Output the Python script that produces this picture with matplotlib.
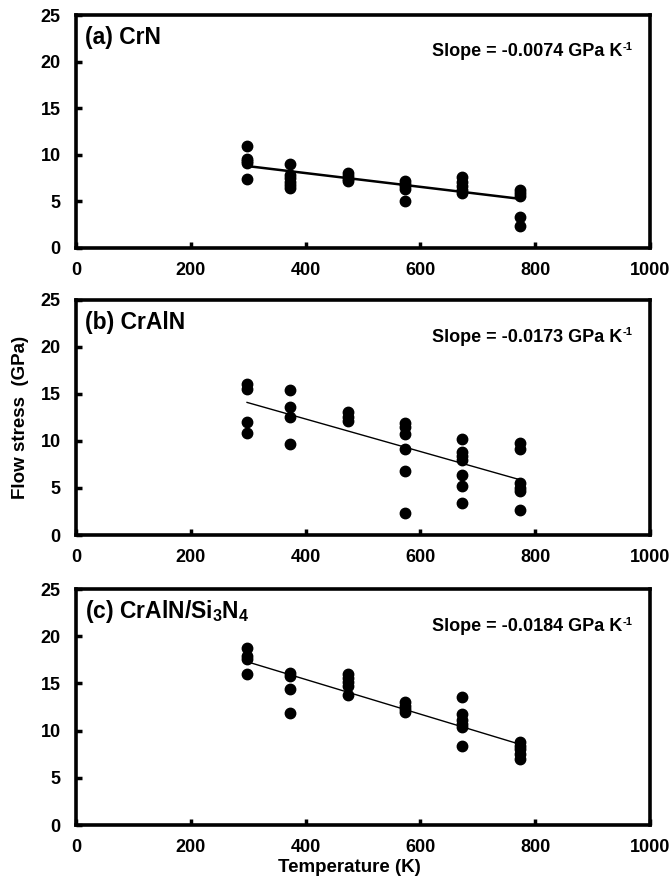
import matplotlib
matplotlib.use("Agg")
import matplotlib.pyplot as plt
from matplotlib.transforms import offset_copy

plt.rcParams['font.family'] = ['Liberation Sans', 'DejaVu Sans']
plt.rcParams['font.weight'] = 'bold'
plt.rcParams['mathtext.fontset'] = 'custom'
plt.rcParams['mathtext.bf'] = 'Liberation Sans:bold'
plt.rcParams['mathtext.rm'] = 'Liberation Sans:bold'
plt.rcParams['mathtext.default'] = 'bf'

temps = [298, 373, 473, 573, 673, 773]

crn_vals = [
    [10.9, 9.6, 9.3, 9.1, 7.4],
    [9.0, 7.8, 7.5, 7.1, 6.8, 6.4],
    [8.0, 7.7, 7.4, 7.2],
    [7.2, 6.9, 6.6, 6.3, 5.0],
    [7.6, 7.1, 6.6, 6.2, 5.9],
    [6.2, 5.9, 5.6, 3.3, 2.4],
]
cralN_vals = [
    [16.1, 15.5, 12.0, 10.8],
    [15.4, 13.6, 12.5, 9.7],
    [13.1, 12.6, 12.1],
    [11.9, 11.5, 10.7, 9.2, 6.8, 2.3],
    [10.2, 8.8, 8.4, 8.0, 6.4, 5.2, 3.4],
    [9.8, 9.2, 5.5, 5.0, 4.7, 2.7],
]
cralnsi_vals = [
    [18.8, 17.9, 17.6, 16.0],
    [16.1, 15.8, 14.4, 11.9],
    [16.0, 15.6, 15.1, 14.7, 13.8],
    [13.0, 12.6, 12.3, 12.0],
    [13.6, 11.8, 11.1, 10.7, 10.4, 8.4],
    [8.8, 8.4, 8.0, 7.5, 7.0],
]

slopes = [-0.0074, -0.0173, -0.0184]
intercepts = [11.0, 19.26, 22.78]
fit_range = [298, 773]

titles = ['(a) CrN', '(b) CrAlN', '(c) CrAlN/Si$_3$N$_4$']
slope_texts = ['Slope = -0.0074 GPa K', 'Slope = -0.0173 GPa K',
               'Slope = -0.0184 GPa K']
slope_unit_sup = '-1'
xticks = [0, 200, 400, 600, 800, 1000]
yticks = [0, 5, 10, 15, 20, 25]

datasets = [crn_vals, cralN_vals, cralnsi_vals]
line_widths = [1.8, 1.0, 1.0]

fig = plt.figure(figsize=(6.7, 8.82), dpi=100)
W, H = 670, 882
boxes = [(15, 248), (300, 535), (589, 825)]
left, right = 76, 650

renderer = fig.canvas.get_renderer()

for i, (top, bot) in enumerate(boxes):
    ax = fig.add_axes([left / W, 1 - bot / H, (right - left) / W, (bot - top) / H])
    for t, vals in zip(temps, datasets[i]):
        ax.plot([t] * len(vals), vals, 'o', color='black', markersize=7.5, zorder=3)
    xs = fit_range
    ys = [slopes[i] * x + intercepts[i] for x in xs]
    ax.plot(xs, ys, '-', color='black', lw=line_widths[i], zorder=2)
    ax.set_xlim(0, 1000)
    ax.set_ylim(0, 25)
    ax.set_xticks(xticks)
    ax.set_yticks(yticks)
    ax.tick_params(direction='in', length=4, width=2.5, labelsize=13)
    ax.tick_params(axis='x', pad=10)
    ax.tick_params(axis='y', pad=11)
    for lab in ax.get_xticklabels() + ax.get_yticklabels():
        lab.set_fontweight('bold')
    for sp in ax.spines.values():
        sp.set_linewidth(2.6)
    ax.text(0.016, 0.905, titles[i], transform=ax.transAxes, fontsize=16.5,
            fontweight='bold', ha='left', va='center')
    # slope text with small raised "-1"
    sup = ax.text(0.970, 0.862, slope_unit_sup, transform=ax.transAxes, fontsize=8,
                  fontweight='bold', ha='right', va='center')
    sw = sup.get_window_extent(renderer=renderer).width
    tr = offset_copy(ax.transAxes, fig=fig, x=-sw * 72 / fig.dpi - 0.5, y=0, units='points')
    ax.text(0.970, 0.842, slope_texts[i], transform=tr, fontsize=13,
            fontweight='bold', ha='right', va='center')
    if i == 1:
        ax.set_ylabel('Flow stress  (GPa)', fontsize=13.5, fontweight='bold', labelpad=8)
    if i == 2:
        ax.set_xlabel('Temperature (K)', fontsize=13.5, fontweight='bold', labelpad=5)
        ax.xaxis.set_label_coords(0.476, -0.145)

fig.savefig('out.png', dpi=100)
